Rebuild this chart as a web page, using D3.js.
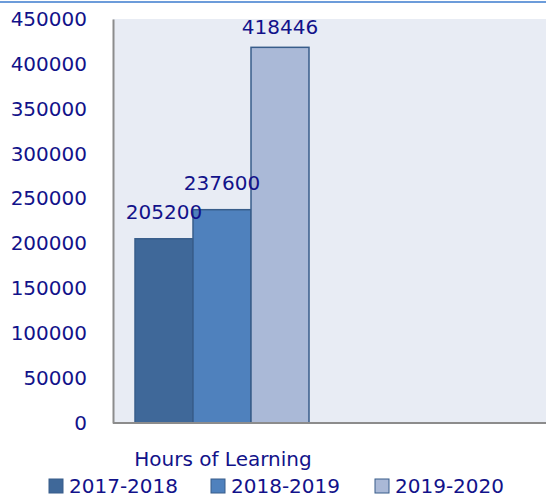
<!DOCTYPE html>
<html>
<head>
<meta charset="utf-8">
<script src="https://cdn.jsdelivr.net/npm/d3@7"></script>
<style>
  body { margin: 0; background: #fff; }
  text { font-family: "DejaVu Sans", sans-serif; }
</style>
</head>
<body>
<div id="chart"></div>
<script>
const category = "Hours of Learning";
const seriesNames = ["2017-2018", "2018-2019", "2019-2020"];
const seriesValues = [205200, 237600, 418446];
const yTicks = [0, 50000, 100000, 150000, 200000, 250000, 300000, 350000, 400000, 450000];
const colors = ["#3F6899", "#4F81BD", "#AAB9D7"];

const width = 546;
const height = 499;
const marginTop = 19;
const marginLeft = 113;
const marginBottom = 76;
const textColor = "#12128a";
const fontSize = "20px";

const svg = d3.select("#chart")
    .append("svg")
    .attr("width", width)
    .attr("height", height);

// thin blue line at the very top
svg.append("line")
    .attr("x1", 0).attr("x2", width)
    .attr("y1", 2).attr("y2", 2)
    .attr("stroke", "#6C9CDA")
    .attr("stroke-width", 2);

const y = d3.scaleLinear()
    .domain([0, 450000])
    .range([height - marginBottom, marginTop]);

// group band for the single category, bars inside it
const x0 = d3.scaleBand()
    .domain([category])
    .range([marginLeft, marginLeft + 218]);

const x1 = d3.scaleBand()
    .domain(seriesNames)
    .range([x0(category) + 22, x0(category) + 196]);

// plot background
svg.append("rect")
    .attr("x", marginLeft)
    .attr("y", marginTop)
    .attr("width", width - marginLeft)
    .attr("height", y(0) - marginTop)
    .attr("fill", "#E8ECF4");

// bars
svg.append("g")
    .selectAll()
    .data(seriesNames)
    .join("rect")
    .attr("x", d => x1(d))
    .attr("y", (d, i) => y(seriesValues[i]))
    .attr("width", x1.bandwidth())
    .attr("height", (d, i) => y(0) - y(seriesValues[i]))
    .attr("fill", (d, i) => colors[i])
    .attr("stroke", "#385D8A")
    .attr("stroke-width", 1.5);

// value labels
svg.append("g")
    .attr("fill", textColor)
    .selectAll()
    .data(seriesNames)
    .join("text")
    .attr("x", d => x1(d) + x1.bandwidth() / 2)
    .attr("y", (d, i) => Math.max(y(seriesValues[i]) - 27, 27))
    .attr("dy", "0.35em")
    .attr("text-anchor", "middle")
    .style("font-size", fontSize)
    .text((d, i) => seriesValues[i]);

// y axis
const yAxis = svg.append("g")
    .attr("transform", `translate(${marginLeft},0)`)
    .call(d3.axisLeft(y).tickValues(yTicks).tickSize(0).tickPadding(26).tickFormat(d3.format("d")));
yAxis.select(".domain").attr("stroke", "#8C8C8C").attr("stroke-width", 2);
yAxis.selectAll("text")
    .attr("fill", textColor)
    .style("font-size", fontSize)
    .style("font-family", "'DejaVu Sans', sans-serif");

// x axis line
svg.append("line")
    .attr("x1", marginLeft).attr("x2", width)
    .attr("y1", y(0)).attr("y2", y(0))
    .attr("stroke", "#8C8C8C")
    .attr("stroke-width", 2);

// category label
svg.append("text")
    .attr("x", 223)
    .attr("y", 459)
    .attr("dy", "0.35em")
    .attr("text-anchor", "middle")
    .attr("fill", textColor)
    .style("font-size", fontSize)
    .text(category);

// legend
const legendX = [49, 211, 375];
const legend = svg.append("g")
    .selectAll()
    .data(seriesNames)
    .join("g")
    .attr("transform", (d, i) => `translate(${legendX[i]},486)`);
legend.append("rect")
    .attr("x", 0).attr("y", -7)
    .attr("width", 14).attr("height", 14)
    .attr("fill", (d, i) => colors[i])
    .attr("stroke", "#385D8A")
    .attr("stroke-width", 1);
legend.append("text")
    .attr("x", 20)
    .attr("dy", "0.35em")
    .attr("fill", textColor)
    .style("font-size", fontSize)
    .text(d => d);
</script>
</body>
</html>
